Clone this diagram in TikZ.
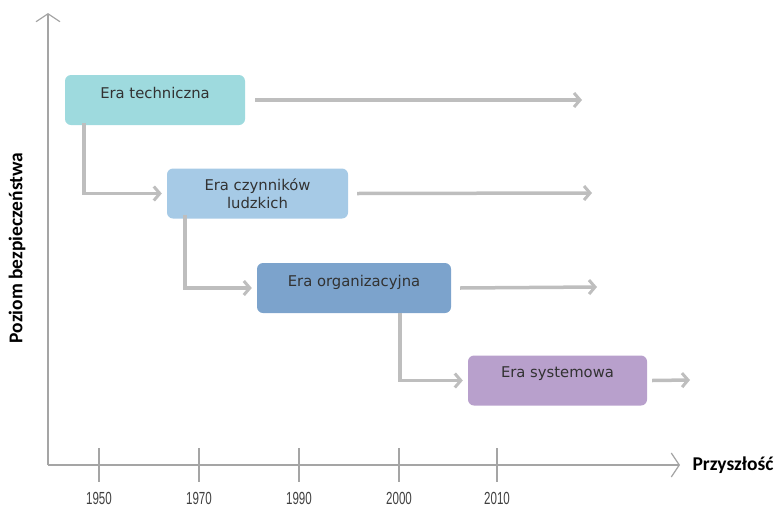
\documentclass[tikz,border=0pt]{standalone}
\usepackage{fontspec}
\setmainfont{DejaVu Sans}
\newfontfamily\labfont{Carlito}
\newfontfamily\narrowfont[FakeStretch=0.66]{Liberation Sans}
\usetikzlibrary{arrows.meta}
\definecolor{boxA}{RGB}{158,218,222}
\definecolor{boxB}{RGB}{166,202,230}
\definecolor{boxC}{RGB}{124,163,204}
\definecolor{boxD}{RGB}{184,160,204}
\definecolor{arrgray}{RGB}{190,190,190}
\definecolor{axgray}{RGB}{165,165,165}
\definecolor{txt}{RGB}{50,50,50}
\tikzset{
  erabox/.style={draw=none, rounded corners=6pt, minimum width=#1, minimum height=50pt, inner sep=0pt},
  eratext/.style={font=\fontsize{14.8}{18}\selectfont, text=txt, align=center},
  flow/.style={draw=arrgray, line width=3.5pt, -{Straight Barb[length=6pt,width=14pt,line width=3pt]}},
  axis/.style={draw=axgray, line width=1.3pt, -{Straight Barb[length=8pt,width=24pt,line width=1.2pt]}},
  tick/.style={draw=axgray, line width=1.3pt},
  year/.style={font=\narrowfont\fontsize{17.5}{19}\selectfont, text=black!75},
  axlabel/.style={font=\labfont\bfseries\fontsize{19.5}{22}\selectfont, text=black}
}
\begin{document}
\begin{tikzpicture}[x=1pt,y=-1pt]
\useasboundingbox (0,0) rectangle (782,509);
% axes
\coordinate (O) at (48,465);
\coordinate (ytop) at (48,13);
\coordinate (xend) at (680,465);
\draw[axis] (O) -- (ytop);
\draw[axis] (O) -- (xend);
\node[axlabel, anchor=west] (fut) at (689,465) {Przyszłość};
\node[axlabel, rotate=90] (ylab) at (17,248) {Poziom bezpieczeństwa};
% ticks
\foreach \x/\yr [count=\i] in {99/1950,199/1970,299/1990,399/2000,497/2010}{
  \coordinate (t\i a) at (\x,448);
  \coordinate (t\i b) at (\x,482);
  \draw[tick] (t\i a) -- (t\i b);
  \node[year] (y\i) at (\x,498) {\yr};
}
% boxes
\node[erabox=180pt, fill=boxA] (b1) at (155,100) {};
\node[eratext] (l1) at ([yshift=7pt]b1.center) {Era techniczna};
\node[erabox=181pt, fill=boxB] (b2) at (257.5,193.5) {};
\node[eratext] (l2) at (b2.center) {Era czynników\\ludzkich};
\node[erabox=194pt, fill=boxC] (b3) at (354,288) {};
\node[eratext] (l3) at ([yshift=6pt]b3.center) {Era organizacyjna};
\node[erabox=179pt, fill=boxD] (b4) at (557.5,380.5) {};
\node[eratext] (l4) at ([yshift=7pt]b4.center) {Era systemowa};
% horizontal arrows
\coordinate (e1) at (582,100);
\coordinate (e2) at (592,193);
\coordinate (e3) at (597,287);
\coordinate (e4) at (690,380);
\draw[flow] ([xshift=10pt]b1.east) -- (e1);
\draw[flow] ([xshift=9pt]b2.east) -- (e2);
\draw[flow] ([xshift=9pt]b3.east) -- (e3);
\draw[flow] ([xshift=5pt]b4.east) -- (e4);
% elbows
\draw[flow] ([xshift=-71pt,yshift=2pt]b1.south) |- ([xshift=-5pt]b2.west);
\draw[flow] ([xshift=-72.5pt,yshift=4pt]b2.south) |- ([xshift=-5pt]b3.west);
\draw[flow] ([xshift=46pt]b3.south) |- ([xshift=-5pt]b4.west);
\end{tikzpicture}
\end{document}
